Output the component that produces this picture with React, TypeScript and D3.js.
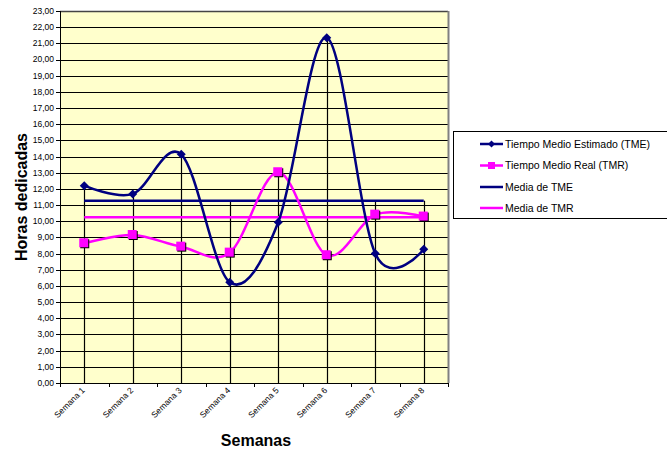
import React from 'react';
import * as d3 from 'd3';

const categories = ['Semana 1', 'Semana 2', 'Semana 3', 'Semana 4', 'Semana 5', 'Semana 6', 'Semana 7', 'Semana 8'];
const tme = [12.2, 11.69, 14.14, 6.23, 9.94, 21.35, 8.0, 8.27];
const tmr = [8.64, 9.15, 8.43, 8.06, 13.03, 7.9, 10.41, 10.29];
const mediaTme = [11.27, 11.27, 11.27, 11.27, 11.27, 11.27, 11.27, 11.27];
const mediaTmr = [10.25, 10.25, 10.25, 10.25, 10.25, 10.25, 10.25, 10.25];
const legendLabels = ['Tiempo Medio Estimado (TME)', 'Tiempo Medio Real (TMR)', 'Media de TME', 'Media de TMR'];
const yTitle = 'Horas dedicadas';
const xTitle = 'Semanas';

const W = 667;
const H = 450;
const L = 60, R = 448, T = 11, B = 383;
const NAVY = '#000080';
const MAG = '#FF00FF';
const FONT = 'Arial, "Liberation Sans", sans-serif';

export default function App() {
  const x = d3.scaleBand<string>().domain(categories).range([L, R]).paddingInner(0).paddingOuter(0);
  const y = d3.scaleLinear().domain([0, 23]).range([B, T]);
  const cx = (c: string) => (x(c) as number) + x.bandwidth() / 2;
  const fmt = (v: number) => d3.format('.2f')(v).replace('.', ',');
  const yTicks = y.ticks(23);

  const smooth = d3.line<number>()
    .x((_, i) => cx(categories[i]))
    .y((d) => y(d))
    .curve(d3.curveCardinal.tension(0));
  const straight = d3.line<number>()
    .x((_, i) => cx(categories[i]))
    .y((d) => y(d));

  const tops = categories.map((_, i) => Math.max(tme[i], tmr[i], mediaTme[i], mediaTmr[i]));
  const boundaries = categories.map((c) => x(c) as number).concat([R]);

  const legendY = [144, 165.5, 187, 208];

  const diamond = (px: number, py: number, s: number) =>
    `M${px},${py - s}L${px + s},${py}L${px},${py + s}L${px - s},${py}Z`;

  return (
    <div style={{ position: 'absolute', left: 0, top: 0 }}>
      <svg width={W} height={H} style={{ display: 'block' }} fontFamily={FONT}>
        <rect x={0} y={0} width={W} height={H} fill="#ffffff" />
        <rect x={L} y={T} width={R - L} height={B - T} fill="#FFFFCC" />
        {yTicks.map((t) => (
          <line key={'g' + t} x1={L} x2={R} y1={Math.round(y(t)) + 0.5} y2={Math.round(y(t)) + 0.5} stroke="#000" strokeWidth={1} />
        ))}
        {categories.map((c, i) => (
          <line key={'d' + c} x1={Math.round(cx(c)) + 0.5} x2={Math.round(cx(c)) + 0.5} y1={y(tops[i])} y2={B} stroke="#000" strokeWidth={1.2} />
        ))}
        <line x1={L} x2={R} y1={T + 0.5} y2={T + 0.5} stroke="#444" strokeWidth={1.5} />
        <line x1={R + 0.5} x2={R + 0.5} y1={T} y2={B} stroke="#808080" strokeWidth={2} />
        <path d={straight(mediaTme) || ''} fill="none" stroke={NAVY} strokeWidth={2.5} />
        <path d={straight(mediaTmr) || ''} fill="none" stroke={MAG} strokeWidth={2.5} />
        <path d={smooth(tmr) || ''} fill="none" stroke={MAG} strokeWidth={2.5} />
        <path d={smooth(tme) || ''} fill="none" stroke={NAVY} strokeWidth={2.5} />
        {tmr.map((v, i) => {
          const px = cx(categories[i]);
          const py = y(v);
          return (
            <g key={'m' + i}>
              <rect x={px - 4} y={py - 4} width={9} height={9} fill="#000" />
              <rect x={px - 5} y={py - 5} width={9} height={9} fill={MAG} />
            </g>
          );
        })}
        {tme.map((v, i) => {
          const px = cx(categories[i]);
          const py = y(v);
          return <path key={'e' + i} d={diamond(px, py, 4.5)} fill={NAVY} />;
        })}
        {/* axes */}
        <line x1={L + 0.5} x2={L + 0.5} y1={T} y2={B + 4} stroke="#000" strokeWidth={1} />
        <line x1={L - 4} x2={R} y1={B + 0.5} y2={B + 0.5} stroke="#000" strokeWidth={1} />
        {yTicks.map((t) => (
          <g key={'t' + t}>
            <line x1={L - 4} x2={L} y1={Math.round(y(t)) + 0.5} y2={Math.round(y(t)) + 0.5} stroke="#000" />
            <text x={54} y={y(t)} dy="0.35em" textAnchor="end" fontSize={8.5} fill="#000">{fmt(t)}</text>
          </g>
        ))}
        {boundaries.map((b, i) => (
          <line key={'b' + i} x1={Math.round(b) + 0.5} x2={Math.round(b) + 0.5} y1={B} y2={B + 4} stroke="#000" />
        ))}
        {categories.map((c) => (
          <text key={'x' + c} transform={`translate(${cx(c) + 1},${391}) rotate(-45)`} textAnchor="end" fontSize={8.5} fill="#000">{c}</text>
        ))}
        <text transform={`translate(27,197) rotate(-90)`} textAnchor="middle" fontSize={16} fontWeight="bold" fill="#000">{yTitle}</text>
        <text x={256} y={446} textAnchor="middle" fontSize={16} fontWeight="bold" fill="#000">{xTitle}</text>
        {/* legend */}
        <rect x={453.5} y={131.5} width={220} height={87} fill="#fff" stroke="#000" strokeWidth={1} />
        {legendLabels.map((lab, i) => {
          const ly = legendY[i];
          const color = i % 2 === 0 ? NAVY : MAG;
          return (
            <g key={'l' + i}>
              <line x1={480} x2={503} y1={ly} y2={ly} stroke={color} strokeWidth={2.5} />
              {i === 0 && <path d={diamond(491.5, ly, 3.5)} fill={NAVY} />}
              {i === 1 && <rect x={488} y={ly - 3.5} width={7} height={7} fill={MAG} />}
              <text x={505} y={ly} dy="0.35em" fontSize={10.5} fill="#000">{lab}</text>
            </g>
          );
        })}
      </svg>
    </div>
  );
}
